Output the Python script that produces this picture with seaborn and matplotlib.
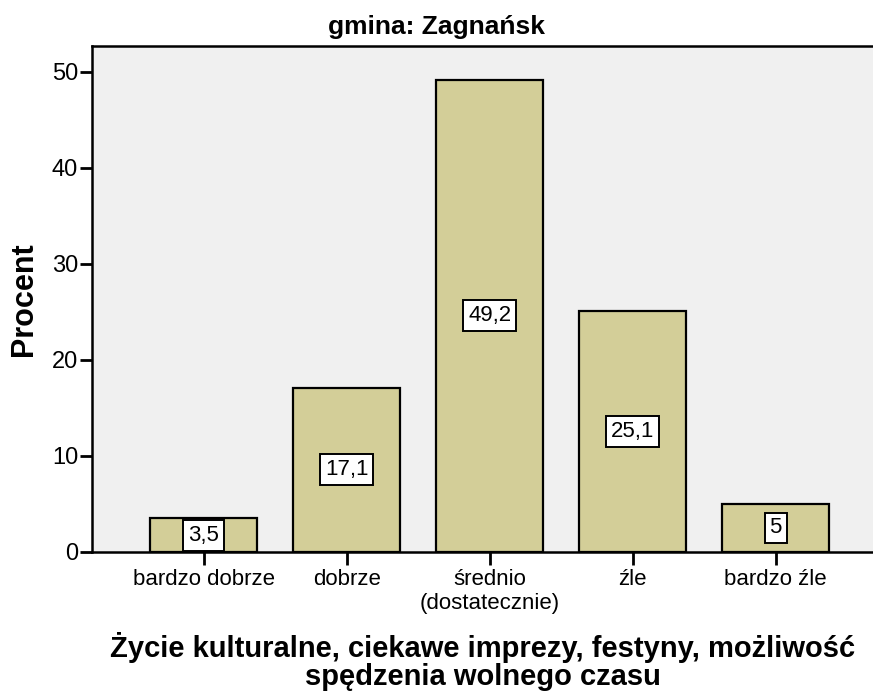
import pandas as pd
import seaborn as sns
import matplotlib.pyplot as plt

categories = ["bardzo dobrze", "dobrze", "średnio\n(dostatecznie)", "źle", "bardzo źle"]
percent = [3.5, 17.1, 49.2, 25.1, 5.0]
value_labels = ["3,5", "17,1", "49,2", "25,1", "5"]

df = pd.DataFrame({"kategoria": categories, "procent": percent})

sns.set_theme(style="white")
plt.rcParams["font.family"] = ["Liberation Sans", "DejaVu Sans"]
plt.rcParams.update({"text.color": "black", "axes.labelcolor": "black",
                     "xtick.color": "black", "ytick.color": "black"})

fig = plt.figure(figsize=(8.73, 6.91), dpi=100)
ax = fig.add_axes([0.1054, 0.2012, 0.8946, 0.7322])
ax.set_facecolor("#f0f0f0")

sns.barplot(data=df, x="kategoria", y="procent", color="#d3ce98",
            edgecolor="black", linewidth=1.6, width=0.75, saturation=1, ax=ax)

# value boxes in the middle of each bar
ax.bar_label(ax.containers[0], labels=value_labels, label_type="center",
             fontsize=16, color="black",
             bbox=dict(boxstyle="square,pad=0.22", facecolor="white",
                       edgecolor="black", linewidth=1.4))

ax.set_xlim(-0.78, 4.68)
ax.set_ylim(0, 52.7)
ax.set_yticks([0, 10, 20, 30, 40, 50])
ax.tick_params(axis="y", labelsize=17, length=9, width=2, direction="out", left=True, pad=1)
ax.tick_params(axis="x", labelsize=16, length=9, width=2, direction="out", bottom=True, pad=3)

for side in ["left", "top", "bottom"]:
    ax.spines[side].set_linewidth(1.8)
    ax.spines[side].set_color("black")
ax.spines["right"].set_visible(False)

ax.set_ylabel("Procent", fontsize=22, fontweight="bold", labelpad=9)
ax.set_xlabel("Życie kulturalne, ciekawe imprezy, festyny, możliwość\nspędzenia wolnego czasu",
              fontsize=21, fontweight="bold", linespacing=1.0, labelpad=13)
fig.text(437 / 873, 1 - 27 / 691, "gmina: Zagnańsk", ha="center", va="center",
         fontsize=19, fontweight="bold")

fig.savefig("out.png", dpi=100)
